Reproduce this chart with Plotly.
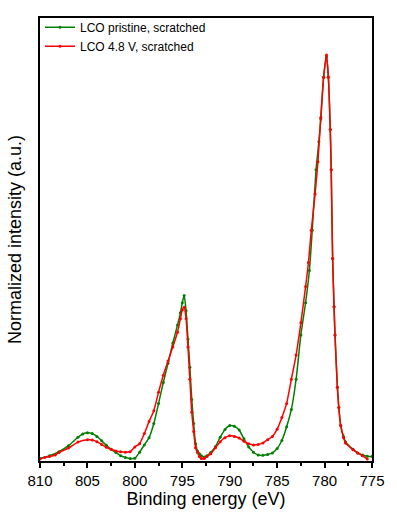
import plotly.graph_objects as go

# binding energy (eV) and normalized intensity
energy_pristine = [
    810.0, 809.0, 808.0, 807.0, 806.0, 805.5, 805.0, 804.5, 804.0, 803.5,
    803.0, 802.5, 802.0, 801.5, 801.0, 800.5, 800.0, 799.5, 799.0, 798.5,
    798.0, 797.5, 797.0, 796.5, 796.0, 795.5, 795.2, 795.0, 794.8, 794.6,
    794.4, 794.2, 794.0, 793.8, 793.6, 793.4, 793.2, 793.0, 792.7, 792.4,
    792.0, 791.5, 791.0, 790.5, 790.0, 789.5, 789.0, 788.5, 788.0, 787.5,
    787.0, 786.5, 786.0, 785.5, 785.0, 784.5, 784.0, 783.5, 783.0, 782.5,
    782.0, 781.6, 781.3, 780.9, 780.6, 780.4, 780.1, 779.8, 779.6, 779.4,
    779.3, 779.15, 779.0, 778.9, 778.65, 778.5, 778.3, 778.0, 777.8, 777.0,
    776.5, 776.0, 775.5, 775.0,
]
intensity_pristine = [
    0.003, 0.010, 0.020, 0.035, 0.056, 0.064, 0.067, 0.065, 0.058, 0.047,
    0.036, 0.026, 0.018, 0.010, 0.006, 0.003, 0.004, 0.019, 0.037, 0.055,
    0.090, 0.140, 0.192, 0.240, 0.290, 0.335, 0.365, 0.390, 0.408, 0.370,
    0.300, 0.230, 0.150, 0.090, 0.040, 0.022, 0.015, 0.010, 0.007, 0.010,
    0.018, 0.033, 0.056, 0.075, 0.085, 0.083, 0.074, 0.052, 0.032, 0.019,
    0.012, 0.011, 0.013, 0.017, 0.028, 0.048, 0.082, 0.125, 0.200, 0.310,
    0.390, 0.470, 0.570, 0.720, 0.790, 0.846, 0.950, 1.000, 0.950, 0.820,
    0.720, 0.500, 0.380, 0.310, 0.180, 0.130, 0.085, 0.058, 0.045, 0.026,
    0.017, 0.012, 0.009, 0.008,
]

energy_charged = [
    810.0, 809.5, 809.0, 808.4, 808.0, 807.0, 806.0, 805.0, 804.5, 804.0,
    803.5, 803.0, 802.5, 802.0, 801.5, 801.0, 800.5, 800.0, 799.5, 799.0,
    798.5, 798.0, 797.5, 797.0, 796.5, 796.0, 795.5, 795.2, 795.0, 794.8,
    794.6, 794.4, 794.2, 794.0, 793.8, 793.6, 793.4, 793.2, 793.0, 792.7,
    792.4, 792.0, 791.5, 791.0, 790.5, 790.0, 789.5, 789.0, 788.5, 788.0,
    787.5, 787.0, 786.5, 786.0, 785.5, 785.0, 784.5, 784.0, 783.5, 783.0,
    782.5, 782.0, 781.7, 781.4, 781.0, 780.7, 780.4, 780.1, 779.8, 779.6,
    779.4, 779.3, 779.15, 779.0, 778.9, 778.65, 778.5, 778.3, 778.0, 777.8,
    777.0, 776.5, 776.0, 775.5,
]
intensity_charged = [
    0.002, 0.006, 0.008, 0.012, 0.018, 0.029, 0.044, 0.050, 0.049, 0.045,
    0.038, 0.031, 0.026, 0.022, 0.020, 0.019, 0.020, 0.032, 0.040, 0.065,
    0.095, 0.122, 0.168, 0.210, 0.245, 0.280, 0.317, 0.350, 0.372, 0.379,
    0.350, 0.280, 0.200, 0.118, 0.070, 0.030, 0.018, 0.008, 0.003, 0.003,
    0.008, 0.015, 0.030, 0.045, 0.055, 0.060, 0.058, 0.054, 0.046, 0.040,
    0.037, 0.038, 0.042, 0.050, 0.058, 0.076, 0.105, 0.140, 0.200, 0.260,
    0.340, 0.430, 0.490, 0.570, 0.660, 0.740, 0.850, 0.950, 1.005, 0.950,
    0.820, 0.720, 0.500, 0.380, 0.310, 0.180, 0.130, 0.085, 0.055, 0.042,
    0.025, 0.017, 0.010, 0.002,
]

series = [
    ("LCO pristine, scratched", energy_pristine, intensity_pristine, "#008000"),
    ("LCO 4.8 V, scratched", energy_charged, intensity_charged, "#ff0000"),
]

fig = go.Figure()
for name, x, y, color in series:
    fig.add_trace(go.Scatter(
        x=x, y=y, name=name, mode="lines+markers",
        line=dict(color=color, width=1.5, shape="spline", smoothing=0.6),
        marker=dict(color=color, size=3),
    ))

fig.update_layout(
    width=397, height=519,
    margin=dict(l=40, r=23, t=18, b=58),
    plot_bgcolor="white", paper_bgcolor="white",
    font=dict(family="Liberation Sans, Arial", size=15, color="black"),
    showlegend=True,
    legend=dict(x=0.0, y=1.012, xanchor="left", yanchor="top",
                bgcolor="rgba(0,0,0,0)", font=dict(size=12),
                tracegroupgap=0, itemwidth=30),
)
fig.update_xaxes(
    range=[810, 775], dtick=5, tick0=775,
    showline=True, linecolor="black", linewidth=2, mirror=True,
    ticks="outside", ticklen=5, tickwidth=1.5, tickcolor="black",
    minor=dict(dtick=2.5, ticks="outside", ticklen=3, tickwidth=1.5, tickcolor="black"),
    showgrid=False, zeroline=False,
    title=dict(text="Binding energy (eV)", font=dict(size=18), standoff=2),
)
fig.update_yaxes(
    range=[-0.003, 1.097],
    showline=True, linecolor="black", linewidth=2, mirror=True,
    showticklabels=False, ticks="", showgrid=False, zeroline=False,
    title=dict(text="Normalized intensity (a.u.)", font=dict(size=18), standoff=12),
)

# page body has a default 8px margin; drop it so the figure sits at the corner
fig.write_html("out.html", config={"displayModeBar": False},
               post_script="document.body.style.margin='0px';")
